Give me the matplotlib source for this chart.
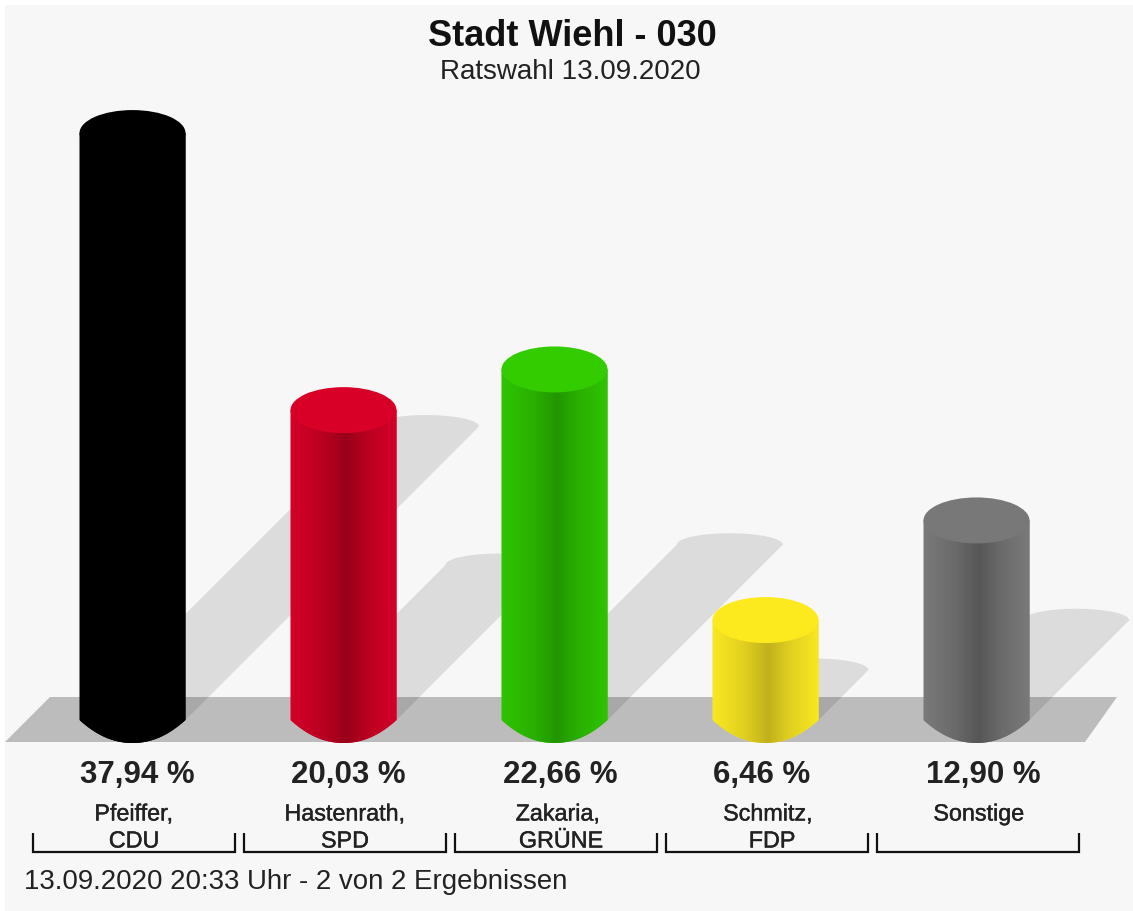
import numpy as np
import matplotlib
matplotlib.use("Agg")
import matplotlib.pyplot as plt
from matplotlib.colors import LinearSegmentedColormap, to_rgb
from matplotlib.patches import Ellipse, Polygon
import matplotlib.patheffects as pe

plt.rcParams['font.family'] = ['Liberation Sans', 'DejaVu Sans']

names = ["Pfeiffer,", "Hastenrath,", "Zakaria,", "Schmitz,", "Sonstige"]
parties = ["CDU", "SPD", "GRÜNE", "FDP", ""]
values = [37.94, 20.03, 22.66, 6.46, 12.90]

# cylinder colours: cap, side edge, darkest line
cap_colors = ["#000000", "#d90028", "#33cc00", "#fdea1e", "#787878"]
edge_colors = ["#000000", "#d40027", "#2fc400", "#f8e822", "#7a7a7a"]
dark_colors = ["#000000", "#98001a", "#229600", "#c2b01c", "#565656"]

W, H = 1133, 911
PX_X = 211.0    # pixels per category
PX_Y = 15.47    # pixels per percent
X0, Y0 = 132.5, 720.0   # pixel of category 0 / 0 percent
HALF_W = 53 / PX_X
SEMI = 23 / PX_Y

fig = plt.figure(figsize=(W / 100, H / 100), dpi=100, facecolor="white")

# pixel axes for backdrop, floor and text
pax = fig.add_axes([0, 0, 1, 1], zorder=0)
pax.set_xlim(0, W)
pax.set_ylim(H, 0)
pax.axis("off")
pax.add_patch(plt.Rectangle((5, 5), W - 5, H - 5, color="#f7f7f7", lw=0))
pax.add_patch(Polygon([(5, 742), (1085, 742), (1117, 697), (50, 697)], color="#bcbcbc", lw=0))

# data axes, percent on y and category on x
ax = fig.add_axes([0, 0, 1, 1], zorder=1)
ax.patch.set_alpha(0)
ax.axis("off")
xlim = (-X0 / PX_X, (W - X0) / PX_X)
ylim = (-(H - Y0) / PX_Y, Y0 / PX_Y)

t = np.linspace(0, np.pi, 60)
u = np.linspace(-1, 1, 60)
for i, v in enumerate(values):
    # shadow falls up and to the right, half the bar height
    dx = 0.5 * v * PX_Y / PX_X
    dy = 0.5 * v
    cap = list(zip(i + dx + HALF_W * np.cos(t), dy + 0.5 * SEMI * np.sin(t)))
    shadow = [(i + HALF_W, 0)] + cap + [(i - HALF_W, 0)]
    ax.add_patch(Polygon(shadow, color="black", alpha=0.105, lw=0, zorder=2))

for i, v in enumerate(values):
    # the foot of the cylinder is a bit pointed, not a true ellipse
    foot = list(zip(i + HALF_W * u, -SEMI * (1 - np.abs(u) ** 2.1)))
    side = [(i + HALF_W, v), (i - HALF_W, v)] + foot
    body = Polygon(side, color=edge_colors[i], lw=0, zorder=3)
    ax.add_patch(body)
    e = np.array(to_rgb(edge_colors[i]))
    d = np.array(to_rgb(dark_colors[i]))
    mid = tuple(e + 0.45 * (d - e))
    cmap = LinearSegmentedColormap.from_list(
        "cyl", [(0, tuple(e)), (0.3, mid), (0.52, tuple(d)), (0.72, mid), (1, tuple(e))])
    im = ax.imshow(np.linspace(0, 1, 200).reshape(1, -1), cmap=cmap, aspect="auto",
                   extent=(i - HALF_W, i + HALF_W, -SEMI, v), zorder=4)
    im.set_clip_path(body)
    ax.add_patch(Ellipse((i, v), 2 * HALF_W, 2 * SEMI, color=cap_colors[i], lw=0, zorder=5))

ax.set_xlim(*xlim)
ax.set_ylim(*ylim)

# text
thick = [pe.withStroke(linewidth=0.3, foreground="#222222")]
pax.text(572, 37, "Stadt Wiehl - 030", ha="center", va="center", fontsize=26,
         fontweight="bold", color="#111111")
pax.text(570, 72, "Ratswahl 13.09.2020", ha="center", va="center", fontsize=20, color="#222222")

value_x = [137, 348, 560, 762, 983]
name_x = [134, 345, 558, 768, 979]
party_x = [134, 345, 561, 772, 979]
bracket_x = [33, 244, 455, 666, 877]

for i, v in enumerate(values):
    label = f"{v:.2f}".replace(".", ",") + " %"
    pax.text(value_x[i], 775.5, label, ha="center", va="center", fontsize=22.5,
             fontweight="bold", color="#222222")
    pax.text(name_x[i], 814, names[i], ha="center", va="center", fontsize=16.8,
             color="#222222", path_effects=thick)
    if parties[i]:
        pax.text(party_x[i], 841, parties[i], ha="center", va="center", fontsize=16.8,
                 color="#222222", path_effects=thick)
    bx = bracket_x[i]
    pax.plot([bx, bx, bx + 202, bx + 202], [833, 852, 852, 833], color="#111111", lw=1.6,
             solid_joinstyle="miter", solid_capstyle="butt")

pax.text(24, 882, "13.09.2020 20:33 Uhr - 2 von 2 Ergebnissen", ha="left", va="center",
         fontsize=19.9, color="#222222")

fig.savefig("out.png", dpi=100, facecolor="white")
